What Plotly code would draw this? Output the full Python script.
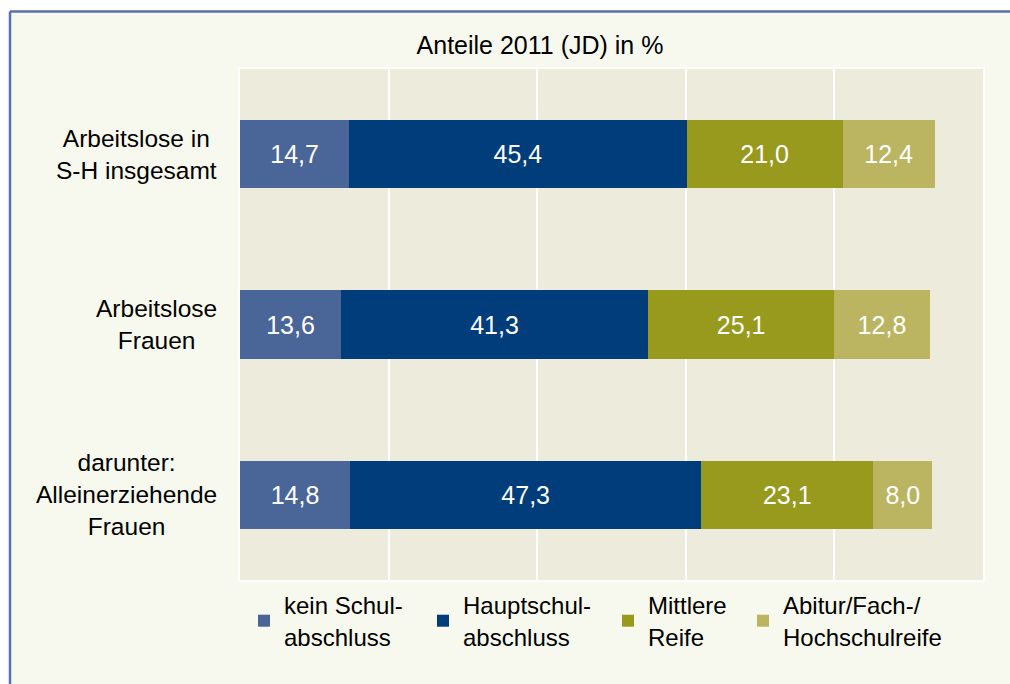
import plotly.graph_objects as go

categories = ["Arbeitslose in<br>S-H insgesamt", "Arbeitslose<br>Frauen", "darunter:<br>Alleinerziehende<br>Frauen"]
series_names = ["kein Schul-<br>abschluss", "Hauptschul-<br>abschluss", "Mittlere<br>Reife", "Abitur/Fach-/<br>Hochschulreife"]
kein = [14.7, 13.6, 14.8]
haupt = [45.4, 41.3, 47.3]
mittlere = [21.0, 25.1, 23.1]
abitur = [12.4, 12.8, 8.0]
colors = ["#4A6699", "#003D7A", "#989A1E", "#BBB562"]
title_text = "Anteile 2011 (JD) in %"

FONT = "Liberation Sans, Arial, sans-serif"
W, H = 1010, 684
L, R, T, B = 240, 27, 69, 104
pw, ph = W - L - R, H - T - B

def px_x(p):
    return (p - L) / pw

def px_y(p):
    return (H - B - p) / ph

legend_ids = ["legend", "legend2", "legend3", "legend4"]
legend_px = [244, 423, 608, 743]

fig = go.Figure()
for name, vals, col, lid in zip(series_names, [kein, haupt, mittlere, abitur], colors, legend_ids):
    fig.add_trace(go.Bar(
        y=categories, x=vals, name=name, orientation="h",
        marker=dict(color=col, line=dict(width=0)),
        texttemplate="%{x:.1f}", textposition="inside", insidetextanchor="middle",
        textfont=dict(color="white", size=25, family=FONT),
        constraintext="none", legend=lid,
    ))

annotations = []
for c in categories:
    annotations.append(dict(
        x=px_x(219), xref="paper", y=c, yref="y", text=c, showarrow=False,
        xanchor="right", yanchor="middle", align="center",
        font=dict(size=24.5, color="black", family=FONT),
    ))

shapes = [
    dict(type="rect", xref="paper", yref="paper", x0=px_x(-5), x1=px_x(1020), y0=px_y(10), y1=px_y(-5),
         fillcolor="white", line=dict(width=0), layer="above"),
    dict(type="rect", xref="paper", yref="paper", x0=px_x(-5), x1=px_x(9), y0=px_y(700), y1=px_y(-5),
         fillcolor="white", line=dict(width=0), layer="above"),
    dict(type="line", xref="paper", yref="paper", x0=px_x(10), x1=px_x(1020), y0=px_y(11.5), y1=px_y(11.5),
         line=dict(color="#5672A6", width=2.5), layer="above"),
    dict(type="line", xref="paper", yref="paper", x0=px_x(10), x1=px_x(10), y0=px_y(11.5), y1=px_y(700),
         line=dict(color="#5672A6", width=2.5), layer="above"),
]

legend_common = dict(orientation="h", xanchor="left", y=px_y(583), yanchor="top",
                     font=dict(size=24, color="black", family=FONT), bgcolor="rgba(0,0,0,0)",
                     itemclick=False)
legends = {lid: dict(x=px_x(p), **legend_common) for lid, p in zip(legend_ids, legend_px)}

fig.update_layout(
    width=W, height=H,
    margin=dict(l=L, r=R, t=T, b=B),
    barmode="stack", bargap=0.6,
    paper_bgcolor="#F8F9EE", plot_bgcolor="#EDEBDC",
    separators=",.",
    font=dict(family=FONT, size=24, color="black"),
    title=dict(text=title_text, x=540 / W, xref="container", xanchor="center",
               y=1 - 45 / H, yref="container", yanchor="middle",
               font=dict(size=25, color="black", family=FONT)),
    xaxis=dict(range=[0, 100], dtick=20, showgrid=True, gridcolor="white", gridwidth=2,
               showticklabels=False, zeroline=False, showline=True, mirror=True,
               linecolor="white", linewidth=2, ticks=""),
    yaxis=dict(categoryorder="array", categoryarray=categories, autorange="reversed",
               showticklabels=False, showgrid=False, zeroline=False, showline=True,
               mirror=True, linecolor="white", linewidth=2, ticks=""),
    showlegend=True,
    annotations=annotations,
    shapes=shapes,
    uniformtext=dict(mode=False),
    **legends,
)

fig.write_html("out.html", config={"displayModeBar": False},
               post_script="document.body.style.margin='0px';")
